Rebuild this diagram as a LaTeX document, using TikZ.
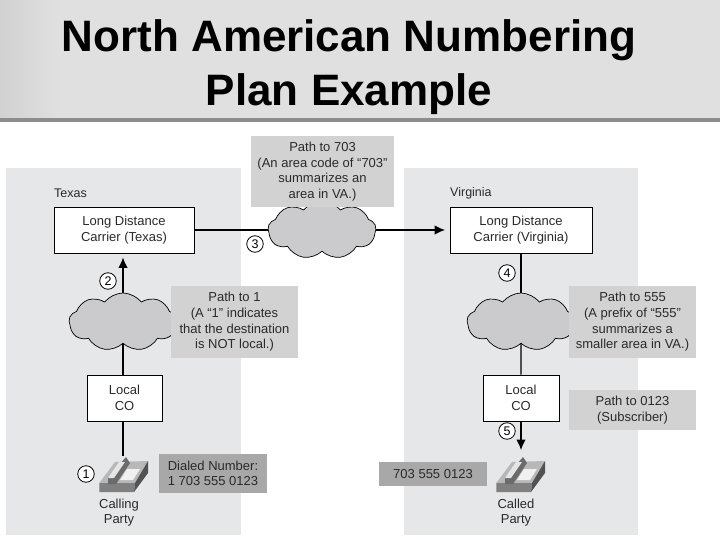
\documentclass[tikz,border=0pt]{standalone}
\usepackage{fontspec}
\setmainfont{Liberation Sans}
\usepackage{tikz}
\usetikzlibrary{calc,shapes.symbols,arrows.meta}
\definecolor{paneltone}{HTML}{E6E7E9}
\definecolor{notetone}{HTML}{D2D2D2}
\definecolor{darknote}{HTML}{A8A8A8}
\definecolor{cloudtone}{HTML}{CBCBCD}
\definecolor{inktone}{HTML}{2A2A2A}
\tikzset{
  panel/.style={fill=paneltone,draw=none,anchor=north west,inner sep=0},
  place/.style={text=inktone,font=\fontsize{12.5}{14}\selectfont,anchor=west,inner sep=0},
  carrier/.style={draw=black,fill=white,line width=.8pt,align=center,text=inktone,font=\fontsize{13}{15.7}\selectfont,inner sep=0},
  note/.style={fill=notetone,align=center,text=inktone,font=\fontsize{13}{15.7}\selectfont,inner sep=0},
  dark note/.style={note,fill=darknote},
  net/.style={cloud,cloud puffs=9,cloud puff arc=105,aspect=1.9,draw=black,fill=cloudtone,line width=.7pt,minimum width=108pt,minimum height=58pt,inner sep=0},
  step mark/.style={circle,draw=black,fill=white,line width=.8pt,minimum size=16.5pt,inner sep=0,font=\fontsize{12.5}{14}\selectfont},
  party/.style={align=center,text=inktone,font=\fontsize{13}{15.5}\selectfont,inner sep=0},
  link/.style={line width=1.2pt,black},
  link arrow/.style={link,-{Latex[length=10.5pt,width=9.5pt]}},
}
\begin{document}
\begin{tikzpicture}[x=1pt,y=-1pt]
  \useasboundingbox (0,0) rectangle (720,540);

  % title band
  \fill[gray!90] (0,118) rectangle (720,122);
  \fill[black!12] (0,0) rectangle (720,118);
  \shade[left color=black!18,right color=black!12] (0,0) rectangle (60,118);
  \node[align=center,font=\bfseries\fontsize{44}{54}\selectfont,inner sep=0] (title) at (349,67) {North American Numbering\\Plan Example};

  % states
  \node[panel,minimum width=235pt,minimum height=367pt] (texas) at (6,168) {};
  \node[panel,minimum width=234pt,minimum height=367pt] (virginia) at (404,168) {};
  \node[place] (texas label) at (54,193) {Texas};
  \node[place] (virginia label) at (450,193) {Virginia};

  % carriers and offices
  \node[carrier,minimum width=140pt,minimum height=46pt] (carrier tx) at (124,230) {Long Distance\\Carrier (Texas)};
  \node[carrier,minimum width=142pt,minimum height=46pt] (carrier va) at (521,230) {Long Distance\\Carrier (Virginia)};
  \node[carrier,minimum width=75pt,minimum height=46pt] (local tx) at (124.5,398) {Local\\CO};
  \node[carrier,minimum width=76pt,minimum height=46pt] (local va) at (521,398) {Local\\CO};

  \draw[link arrow,shorten >=4.5pt] (carrier tx) -- (carrier va);

  % clouds
  \node[net] (cloud mid) at (322,230) {};
  \node[net] (cloud tx) at (123,322) {};
  \node[net] (cloud va) at (521,322) {};

  \coordinate (phone tx) at (123,456);
  \coordinate (phone va) at (521,450);

  \draw[link arrow,shorten >=4pt] (cloud tx.north) -- (cloud tx.north |- carrier tx.south);
  \draw[link] (cloud tx.south) -- (cloud tx.south |- local tx.north);
  \draw[link] (local tx.south -| phone tx) -- (phone tx);
  \draw[link] (carrier va) -- (cloud va.north);
  \draw[link] (cloud va.south) -- (local va);
  \draw[link arrow] (local va) -- (phone va);

  % notes
  \node[note,minimum width=143pt,minimum height=71pt] (note mid) at (322.5,171.5) {Path to 703\\(An area code of ``703''\\summarizes an\\area in VA.)};
  \node[note,minimum width=127pt,minimum height=72pt] (note tx) at (234.5,322) {Path to 1\\(A ``1'' indicates\\that the destination\\is NOT local.)};
  \node[note,minimum width=127pt,minimum height=72pt] (note va) at (632.5,322) {Path to 555\\(A prefix of ``555''\\summarizes a\\smaller area in VA.)};
  \node[note,minimum width=127pt,minimum height=40pt] (note sub) at (632.5,410) {Path to 0123\\(Subscriber)};
  \node[dark note,minimum width=108pt,minimum height=39pt] (dialed) at (213,473.5) {Dialed Number:\\1 703 555 0123};
  \node[dark note,minimum width=108pt,minimum height=24pt] (called no) at (433,474) {703 555 0123};

  % telephones
  \foreach \px in {99,496} {
    \begin{scope}[shift={(\px,456)}]
      \fill[black!28] (0.3,27) -- (16,6) -- (49,5) -- (36,27) -- cycle;
      \fill[black!50] (0.3,27) -- (36,27) -- (35,36) -- (0.3,36) -- cycle;
      \fill[black!68] (36,27) -- (49,5) -- (49,17) -- (35,36) -- cycle;
      \fill[black!6] (21,24) -- (28,13) -- (41,13) -- (34,24) -- cycle;
      \fill[black!58] (9,22) -- (9,28) -- (17,28) -- (31,7) -- (27,1) -- cycle;
      \fill[black!10] (9,22) -- (20,6) -- (26,6) -- (15,22) -- cycle;
    \end{scope}
  }
  \node[party] (calling) at (119,512.5) {Calling\\Party};
  \node[party] (called) at (516,512.5) {Called\\Party};

  % numbered marks
  \node[step mark] (mark 1) at (86,474) {1};
  \node[step mark] (mark 2) at (108,281) {2};
  \node[step mark] (mark 3) at (255,244) {3};
  \node[step mark] (mark 4) at (507,273) {4};
  \node[step mark] (mark 5) at (507,431) {5};
\end{tikzpicture}
\end{document}
